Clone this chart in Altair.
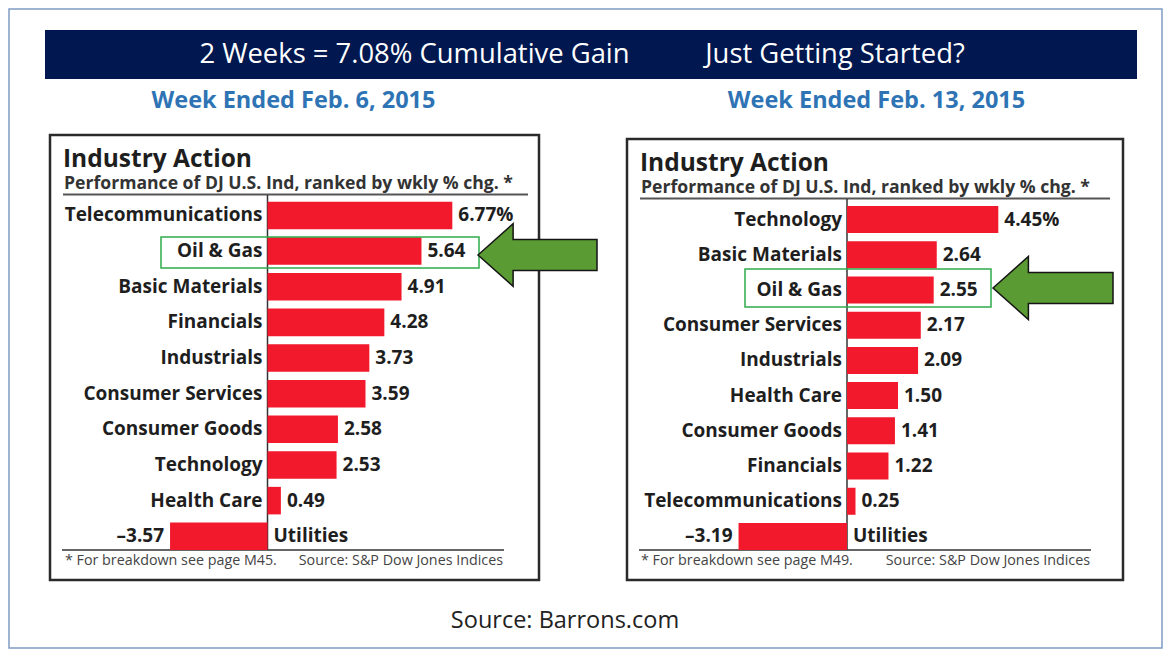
import altair as alt
import pandas as pd

# ---------------- data ----------------
left_categories = ["Telecommunications", "Oil & Gas", "Basic Materials", "Financials",
                   "Industrials", "Consumer Services", "Consumer Goods", "Technology",
                   "Health Care", "Utilities"]
left_values = [6.77, 5.64, 4.91, 4.28, 3.73, 3.59, 2.58, 2.53, 0.49, -3.57]
left_labels = ["6.77%", "5.64", "4.91", "4.28", "3.73", "3.59", "2.58", "2.53", "0.49", "\u20133.57"]

right_categories = ["Technology", "Basic Materials", "Oil & Gas", "Consumer Services",
                    "Industrials", "Health Care", "Consumer Goods", "Financials",
                    "Telecommunications", "Utilities"]
right_values = [4.45, 2.64, 2.55, 2.17, 2.09, 1.50, 1.41, 1.22, 0.25, -3.19]
right_labels = ["4.45%", "2.64", "2.55", "2.17", "2.09", "1.50", "1.41", "1.22", "0.25", "\u20133.19"]

title_left = "2 Weeks = 7.08% Cumulative Gain"
title_right = "Just Getting Started?"
week_left = "Week Ended Feb. 6, 2015"
week_right = "Week Ended Feb. 13, 2015"
panel_title = "Industry Action"
panel_sub = "Performance of DJ U.S. Ind, ranked by wkly % chg. *"
foot_left = ["* For breakdown see page M45.", "Source: S&P Dow Jones Indices"]
foot_right = ["* For breakdown see page M49.", "Source: S&P Dow Jones Indices"]
source_text = "Source: Barrons.com"

# ---------------- styling / layout ----------------
W, H = 1155, 642
OFF = 8
RED = "#F2192C"
DARK = "#1e1e1e"
FONT = "Open Sans"
one = pd.DataFrame({"k": [0]})


def px(v):
    return v - OFF


def rect(x1, y1, x2, y2, **kw):
    return alt.Chart(one).mark_rect(**kw).encode(
        x=alt.value(px(x1)), x2=alt.value(px(x2)),
        y=alt.value(px(y1)), y2=alt.value(px(y2)))


def rule(x1, y1, x2, y2, color, w):
    return alt.Chart(one).mark_rule(color=color, strokeWidth=w).encode(
        x=alt.value(px(x1)), x2=alt.value(px(x2)),
        y=alt.value(px(y1)), y2=alt.value(px(y2)))


def text(s, x, y, size, color=DARK, weight="normal", align="left", baseline="middle"):
    return alt.Chart(one).mark_text(
        text=s, fontSize=size, color=color, fontWeight=weight, align=align,
        baseline=baseline, font=FONT).encode(x=alt.value(px(x)), y=alt.value(px(y)))


ARROW = ("M -1 0 L -0.41 -0.527 L -0.41 -0.26 L 1 -0.26 L 1 0.26 "
         "L -0.41 0.26 L -0.41 0.527 Z")


def arrow(cx, cy, w):
    return alt.Chart(one).mark_point(
        shape=ARROW, size=w * w, filled=True, fill="#5B9B33", stroke="#151515",
        strokeWidth=1.5, opacity=1).encode(x=alt.value(px(cx)), y=alt.value(px(cy)))


def panel(cats, vals, labels, zero_px, k, y_top, y_bot, pinner):
    df = pd.DataFrame({"cat": cats, "val": vals, "lab": labels})
    dmin, dmax = -5, 8
    xs = alt.Scale(domain=[dmin, dmax],
                   range=[px(zero_px + dmin * k), px(zero_px + dmax * k)], nice=False)
    ys = alt.Scale(domain=cats, range=[px(y_top), px(y_bot)],
                   paddingInner=pinner, paddingOuter=pinner / 2)
    X = alt.X("val:Q", scale=xs, axis=None)
    Y = alt.Y("cat:N", scale=ys, axis=None)
    base = alt.Chart(df)
    bars = base.mark_bar(color=RED).encode(x=X, y=Y)
    pos = base.transform_filter("datum.val >= 0")
    neg = base.transform_filter("datum.val < 0")
    tstyle = dict(fontSize=19, font=FONT, fontWeight="bold", color=DARK, baseline="middle")
    pos_cat = pos.mark_text(align="right", **tstyle).encode(
        x=alt.value(px(zero_px - 5)), y=Y, text="cat:N")
    neg_cat = neg.mark_text(align="left", **tstyle).encode(
        x=alt.value(px(zero_px + 6)), y=Y, text="cat:N")
    pos_val = pos.mark_text(align="left", dx=6, **tstyle).encode(x=X, y=Y, text="lab:N")
    neg_val = neg.mark_text(align="right", dx=-6, **tstyle).encode(x=X, y=Y, text="lab:N")
    return alt.layer(bars, pos_cat, neg_cat, pos_val, neg_val)


left_panel = panel(left_categories, left_values, left_labels, 267.5, 27.3, 197.6, 554.1, 0.228)
right_panel = panel(right_categories, right_values, right_labels, 847, 34.0, 201.9, 554.1, 0.233)

before = [
    rect(9, 9, 1162, 648, fillOpacity=0, stroke="#7F9CC4", strokeWidth=1.5),
    rect(45, 30, 1137, 79, fill="#00174F"),
    text(title_left, 414.5, 55, 27.4, color="white", align="center"),
    text(title_right, 835, 55, 27.4, color="white", align="center"),
    text(week_left, 293.5, 101, 23.5, color="#2E74B5", weight="bold", align="center"),
    text(week_right, 876.5, 101, 23.5, color="#2E74B5", weight="bold", align="center"),
    # panels
    rect(50, 135, 539, 580, fill="white", stroke="#2a2a2a", strokeWidth=2.5),
    rect(627, 139, 1123, 580, fill="white", stroke="#2a2a2a", strokeWidth=2.5),
    text(panel_title, 63, 167, 24.5, weight="bold", baseline="alphabetic"),
    text(panel_title, 640, 171, 24.5, weight="bold", baseline="alphabetic"),
    text(panel_sub, 64, 189, 17.6, color="#333333", weight="bold", baseline="alphabetic"),
    text(panel_sub, 641, 193, 17.6, color="#333333", weight="bold", baseline="alphabetic"),
    rule(63, 194.5, 528, 194.5, "#555555", 2),
    rule(640, 198.5, 1110, 198.5, "#555555", 2),
    rule(62, 550, 504, 550, "#666666", 2),
    rule(639, 550, 1091, 550, "#666666", 2),
    rule(267.5, 195, 267.5, 550, "#333333", 1.5),
    rule(847, 199, 847, 550, "#333333", 1.5),
    text(foot_left[0], 65, 561, 14.3, color="#444444"),
    text(foot_left[1], 503, 561, 14.3, color="#444444", align="right"),
    text(foot_right[0], 641, 561, 14.3, color="#444444"),
    text(foot_right[1], 1090, 561, 14.3, color="#444444", align="right"),
    text(source_text, 565, 621, 23.5, color="#222222", align="center"),
]

after = [
    rect(161, 237, 479, 268, fillOpacity=0, stroke="#2EAA4A", strokeWidth=1.5),
    rect(745, 269, 991, 307, fillOpacity=0, stroke="#2EAA4A", strokeWidth=1.5),
    arrow(537.5, 255, 119),
    arrow(1053, 288, 120),
]

chart = alt.layer(*before, left_panel, right_panel, *after).resolve_scale(
    x="independent", y="independent"
).properties(
    width=W, height=H, autosize=alt.AutoSizeParams(type="none"), padding=0
).configure_view(strokeWidth=0)

chart.save("out.html", embed_options={"renderer": "svg", "actions": False})
